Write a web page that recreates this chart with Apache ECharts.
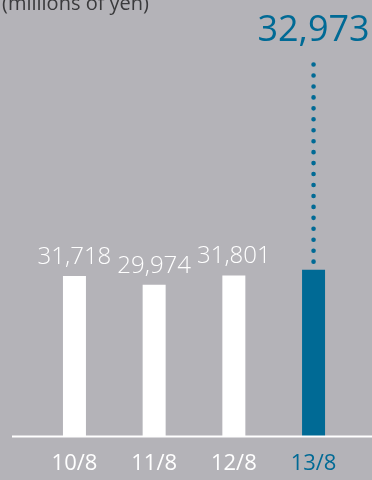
<!DOCTYPE html>
<html>
<head>
<meta charset="utf-8">
<script src="https://cdn.jsdelivr.net/npm/echarts@6/dist/echarts.min.js"></script>
<style>
  html, body { margin: 0; padding: 0; background: #b4b3b8; }
  #chart { width: 372px; height: 480px; }
</style>
</head>
<body>
<div id="chart"></div>
<script>
// Fiscal years ending in August, values in millions of yen
const categories = ['10/8', '11/8', '12/8', '13/8'];
const values = [31718, 29974, 31801, 32973];
const unitLabel = '(millions of yen)';

const BG = '#b4b3b8';
const BLUE = '#006a95';
const WHITE = '#ffffff';
const FONT = '"Open Sans", "Noto Sans", sans-serif';
const last = values.length - 1;

const chart = echarts.init(document.getElementById('chart'), null, { renderer: 'canvas' });

const fmt = v => v.toLocaleString('en-US');

chart.setOption({
  backgroundColor: BG,
  animation: false,
  title: {
    text: unitLabel,
    left: -3,
    top: -11,
    textStyle: { color: '#3a3a3c', fontSize: 20, fontWeight: 'normal', fontFamily: FONT }
  },
  grid: { left: 34.6, right: 18.6, top: 133.3, bottom: 44 },
  xAxis: {
    type: 'category',
    data: categories,
    axisLine: { show: false },
    axisTick: { show: false },
    axisLabel: {
      margin: 17,
      fontSize: 22,
      fontFamily: FONT,
      color: (v, i) => (i === last ? BLUE : WHITE)
    }
  },
  yAxis: {
    type: 'value',
    min: 0,
    max: 60000,
    show: false,
    splitLine: { show: false }
  },
  series: [{
    type: 'bar',
    barWidth: 23,
    data: values.map((v, i) => ({
      value: v,
      itemStyle: { color: i === last ? BLUE : WHITE },
      label: i === last
        ? { show: true, position: 'top', distance: 221, color: BLUE, fontSize: 36, fontFamily: FONT, formatter: p => fmt(p.value) }
        : { show: true, position: 'top', distance: 7, color: WHITE, fontSize: 24, fontWeight: 300, fontFamily: FONT, formatter: p => fmt(p.value) }
    }))
  }]
});

// Baseline and dotted leader from the highlighted bar up to its label
const base = chart.convertToPixel({ seriesIndex: 0 }, [categories[0], 0]);
const topPt = chart.convertToPixel({ seriesIndex: 0 }, [categories[last], values[last]]);
chart.setOption({
  graphic: [
    {
      type: 'line',
      shape: { x1: 12, y1: base[1] + 0.5, x2: 372, y2: base[1] + 0.5 },
      style: { stroke: WHITE, lineWidth: 2 },
      z: 10
    },
    {
      type: 'line',
      shape: { x1: topPt[0], y1: topPt[1] - 8, x2: topPt[0], y2: 64 },
      style: { stroke: BLUE, lineWidth: 4.6, lineCap: 'round', lineDash: [0, 10.95] },
      z: 10
    }
  ]
});
</script>
</body>
</html>
